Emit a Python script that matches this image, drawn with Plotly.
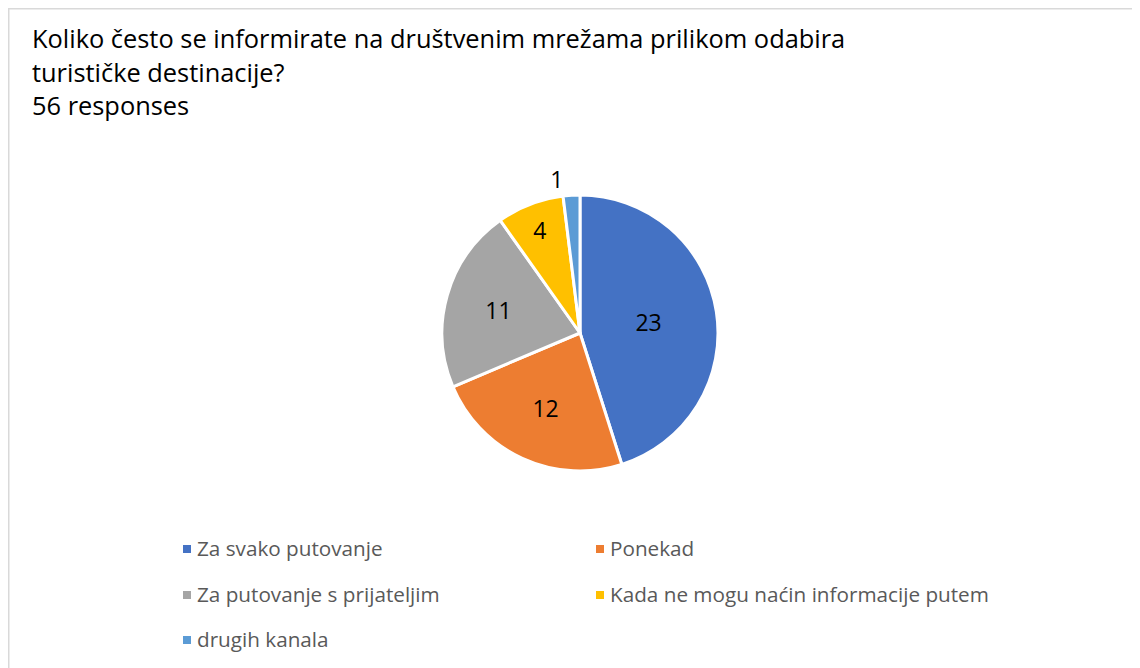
import plotly.graph_objects as go

title_lines = [
    "Koliko često se informirate na društvenim mrežama prilikom odabira",
    "turističke destinacije?",
    "56 responses",
]
labels = [
    "Za svako putovanje",
    "Ponekad",
    "Za putovanje s prijateljim",
    "Kada ne mogu naćin informacije putem",
    "drugih kanala",
]
values = [23, 12, 11, 4, 1]
colors = ["#4472C4", "#ED7D31", "#A5A5A5", "#FFC000", "#5B9BD5"]

W, H = 1132, 660
FONT = "Open Sans"
OFF = 8  # page body margin

cx, cy, r = 580 - OFF, 333 - OFF, 138

fig = go.Figure()
fig.add_trace(go.Pie(
    labels=labels,
    values=values,
    sort=False,
    direction="clockwise",
    rotation=0,
    marker=dict(colors=colors, line=dict(color="white", width=3)),
    texttemplate="%{value}",
    textposition=["inside", "inside", "inside", "inside", "outside"],
    insidetextorientation="horizontal",
    textfont=dict(family=FONT, size=23, color="black"),
    outsidetextfont=dict(family=FONT, size=23, color="black"),
    domain=dict(x=[(cx - r) / W, (cx + r) / W], y=[1 - (cy + r) / H, 1 - (cy - r) / H]),
    showlegend=False,
    hoverinfo="label+value",
))

annotations = []
title_mid = [30, 64, 97]
for line, ym in zip(title_lines, title_mid):
    annotations.append(dict(
        x=22 / W, y=1 - ym / H, xref="paper", yref="paper",
        xanchor="left", yanchor="middle", showarrow=False,
        text=line, font=dict(family=FONT, size=25.4, color="black"),
    ))

border = dict(color="#D9D9D9", width=1.5)
shapes = [
    dict(type="line", xref="paper", yref="paper",
         x0=0, x1=1, y0=1 - 0.75 / H, y1=1 - 0.75 / H, line=border),
    dict(type="line", xref="paper", yref="paper",
         x0=0.75 / W, x1=0.75 / W, y0=0, y1=1, line=border),
]

col_x = [175, 588]
row_y = [541, 587, 632]
for i, (lab, col) in enumerate(zip(labels, colors)):
    c, rr = i % 2, i // 2
    x0, yc = col_x[c], row_y[rr]
    shapes.append(dict(type="rect", xref="paper", yref="paper",
                       x0=x0 / W, x1=(x0 + 8) / W,
                       y0=1 - (yc + 4) / H, y1=1 - (yc - 4) / H,
                       line=dict(width=0), fillcolor=col))
    annotations.append(dict(
        x=(x0 + 12) / W, y=1 - (yc - 1) / H, xref="paper", yref="paper",
        xanchor="left", yanchor="middle", showarrow=False,
        text=lab, font=dict(family=FONT, size=20.7, color="#595959"),
    ))

fig.update_layout(
    width=W, height=H,
    margin=dict(l=0, r=0, t=0, b=0),
    paper_bgcolor="white", plot_bgcolor="white",
    annotations=annotations, shapes=shapes,
)
fig.write_html("out.html")
